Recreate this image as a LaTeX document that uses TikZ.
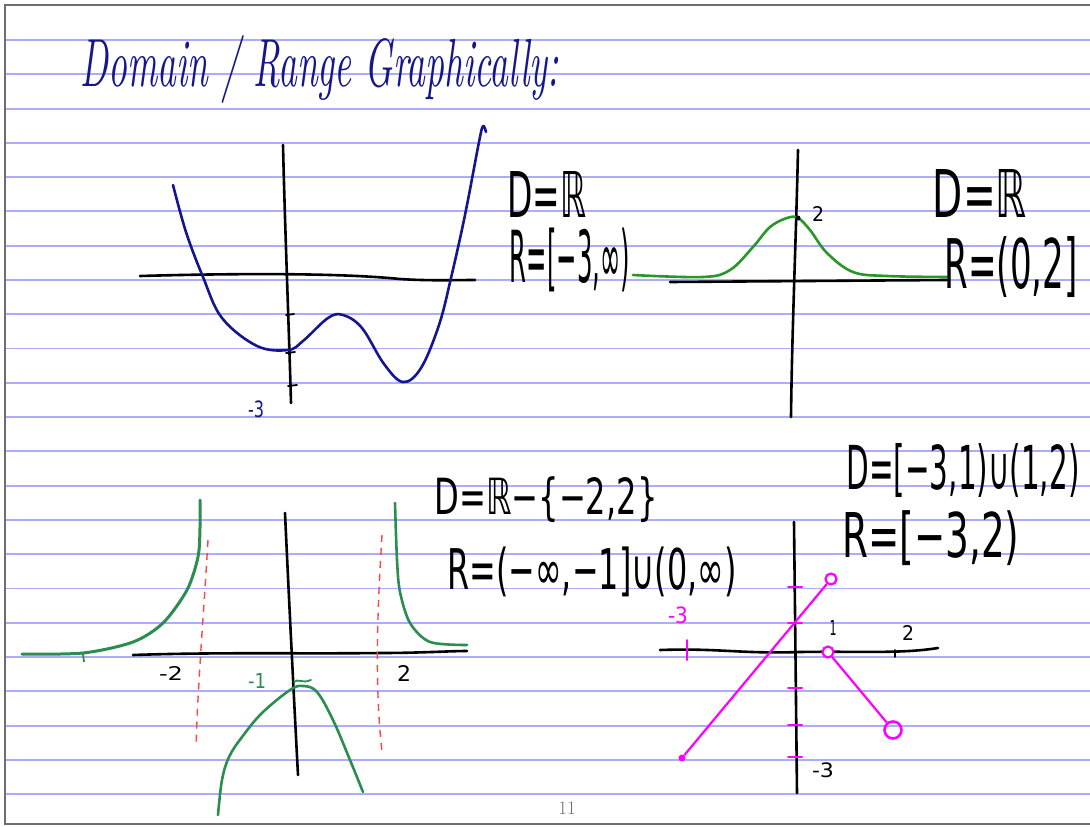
\documentclass[tikz,border=0pt]{standalone}
\usepackage{fontspec}
\usepackage{graphicx}
\newfontfamily\eqfont{DejaVu Sans}
\definecolor{navy}{RGB}{22,22,140}
\definecolor{rulecol}{RGB}{172,172,250}
\definecolor{bellgreen}{RGB}{40,150,40}
\definecolor{teal}{RGB}{45,140,80}
\definecolor{asym}{RGB}{255,70,70}
\definecolor{mag}{RGB}{255,0,255}
\definecolor{framecol}{RGB}{110,110,110}
\tikzset{
  rule/.style={rulecol, line width=1.9pt},
  axis/.style={black, line width=2.6pt, line cap=round, line join=round},
  curve/.style={line width=2.6pt, line cap=round, line join=round},
  txt/.style={inner sep=0pt, outer sep=0pt},
  tickm/.style={line width=2pt, line cap=round},
  opendot/.style={circle, draw=mag, line width=2.2pt, minimum size=11pt, inner sep=0pt, fill=white},
  filldot/.style={circle, fill=mag, minimum size=7pt, inner sep=0pt},
}
\begin{document}
\begin{tikzpicture}[x=1pt,y=-1pt]
\useasboundingbox (0,0) rectangle (1090,827);
\fill[white] (0,0) rectangle (1090,827);
% ruled paper
\foreach \k in {0,...,22} \draw[rule] (6,{40+34.28*\k}) -- (1090,{40+34.28*\k});
% frame
\draw[framecol, line width=1.6pt] (1090,5) -- (5,5) -- (5,824) -- (1090,824);

% title
\node[txt, navy] (title) at (320,69) {\resizebox*{478pt}{68pt}{\itshape Domain / Range Graphically:}};

% ---------- graph 1 ----------
\draw[axis] (140,276) .. controls (210,274) and (330,272) .. (400,279) .. controls (430,281) and (455,280) .. (475,280);
\draw[axis] (283,145) .. controls (285,230) and (289,330) .. (291,403);
\draw[axis, line width=1.8pt] (286,315) -- (294,314);
\draw[axis, line width=1.8pt] (286,353) -- (295,352);
\draw[axis, line width=1.8pt] (288,386) -- (297,385);
\draw[navy, curve] plot[smooth, tension=0.6] coordinates {(173,185) (186,232) (203,277) (222,318) (257,346) (288,350) (303,341) (328,318) (343,315) (362,328) (384,364) (403,382) (421,368) (439,325) (451,278) (465,215) (479,142) (483,126) (486,132)};
\node[txt, navy] (l1) at (256,409) {\resizebox*{16pt}{17pt}{\eqfont -3}};
\node[txt] (d1) at (547,194) {\resizebox*{79pt}{46pt}{\eqfont D=ℝ}};
\node[txt] (r1) at (570,260) {\resizebox*{120pt}{64pt}{\eqfont R=[−3,∞)}};

% ---------- graph 2 ----------
\draw[axis] (798,150) .. controls (796,240) and (792,330) .. (791,417);
\draw[axis] (670,282) -- (947,280);
\draw[bellgreen, curve] plot[smooth, tension=0.6] coordinates {(633,275) (703,277) (730,270) (753,247) (770,227) (787,218) (798,218) (810,230) (827,253) (853,272) (887,276) (947,277)};
\fill (798,218) circle (2.5pt);
\node[txt] (l2) at (818,214) {\resizebox*{12pt}{15pt}{\eqfont 2}};
\node[txt] (d2) at (980,193) {\resizebox*{94pt}{48pt}{\eqfont D=ℝ}};
\node[txt] (r2) at (1011,267) {\resizebox*{133pt}{61pt}{\eqfont R=(0,2]}};

% ---------- graph 3 ----------
\draw[axis] (285,513) .. controls (289,600) and (294,700) .. (298,775);
\draw[axis] (133,655) .. controls (220,652) and (300,654) .. (380,653) .. controls (420,653) and (450,651) .. (467,651);
\draw[asym, line width=1.4pt, dash pattern=on 7pt off 6pt] (208,540) .. controls (204,610) and (198,680) .. (196,747);
\draw[asym, line width=1.4pt, dash pattern=on 7pt off 6pt] (382,535) .. controls (378,600) and (374,680) .. (382,752);
\draw[teal, curve, line width=3pt] plot[smooth, tension=0.5] coordinates {(22,654) (83,653) (133,642) (163,623) (187,590) (198,557) (200,528) (200,500)};
\draw[teal, line width=1.8pt] (83,654) -- (84,662);
\draw[teal, curve] plot[smooth, tension=0.5] coordinates {(395,503) (397,560) (400,592) (410,623) (430,642) (467,645)};
\draw[teal, curve] plot[smooth, tension=0.6] coordinates {(218,815) (222,780) (229,757) (242,737) (262,713) (290,690) (303,686) (317,692) (333,720) (350,760) (363,792)};
\draw[teal, line width=1.8pt, line cap=round] (294,682) .. controls (298,678) and (302,684) .. (311,680);
\node[txt] (lm2) at (171,673) {\resizebox*{24pt}{14pt}{\eqfont -2}};
\node[txt] (lp2) at (404,673) {\resizebox*{14pt}{16pt}{\eqfont 2}};
\node[txt, teal] (lm1) at (257,681) {\resizebox*{18pt}{15pt}{\eqfont -1}};
\node[txt] (d3) at (546,500) {\resizebox*{223pt}{46pt}{\eqfont D=ℝ−\{−2,2\}}};
\node[txt] (r3) at (592,572) {\resizebox*{289pt}{50pt}{\eqfont R=(−∞,−1]∪(0,∞)}};

% ---------- graph 4 ----------
\draw[axis] (794,522) .. controls (795,610) and (796,700) .. (797,793);
\draw[axis] (660,650) .. controls (720,648) and (740,654) .. (800,652) .. controls (860,651) and (900,654) .. (938,648);
\draw[axis, line width=1.6pt] (895,650) -- (895,657);
\foreach \yy in {587,623,688,725,757} \draw[mag, tickm] (788,\yy) -- (802,\yy);
\draw[mag, tickm] (687,640) -- (687,660);
\node[filldot] (f1) at (682,758) {};
\node[opendot] (c1) at (831,579) {};
\node[opendot] (c2) at (828,652) {};
\node[circle, draw=mag, line width=2.6pt, minimum width=11pt, minimum height=17pt, inner sep=0pt] (c3) at (893,730) {};
\draw[mag, line width=2.2pt] (f1) -- (c1);
\draw[mag, line width=2.2pt] (c2) -- (c3);
\node[txt, mag] (lm3) at (678,615) {\resizebox*{20pt}{17pt}{\eqfont -3}};
\node[txt] (lx1) at (833,628) {\resizebox*{7pt}{15pt}{\eqfont 1}};
\node[txt] (lx2) at (908,633) {\resizebox*{12pt}{15pt}{\eqfont 2}};
\node[txt] (ly3) at (823,770) {\resizebox*{22pt}{15pt}{\eqfont -3}};
\node[txt] (d4) at (963,470) {\resizebox*{233pt}{54pt}{\eqfont D=[−3,1)∪(1,2)}};
\node[txt] (r4) at (931,538) {\resizebox*{177pt}{55pt}{\eqfont R=[−3,2)}};

% page number
\node[txt, framecol] (pg) at (567,808) {\fontsize{19}{19}\selectfont 11};
\end{tikzpicture}
\end{document}
